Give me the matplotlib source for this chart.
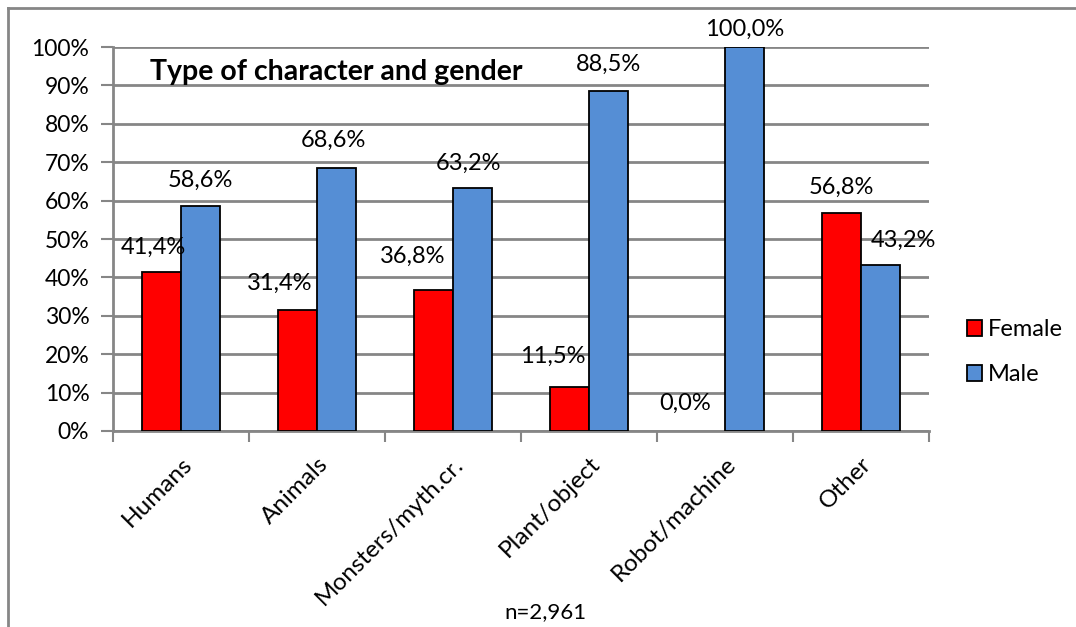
import numpy as np
import matplotlib
matplotlib.use("Agg")
import matplotlib.pyplot as plt
from matplotlib.lines import Line2D

plt.rcParams['font.family'] = ['Lato', 'DejaVu Sans']

categories = ['Humans', 'Animals', 'Monsters/myth.cr.', 'Plant/object', 'Robot/machine', 'Other']
female = [41.4, 31.4, 36.8, 11.5, 0.0, 56.8]
male = [58.6, 68.6, 63.2, 88.5, 100.0, 43.2]
# label offsets in pixels (dx, dy) from the top centre of each bar
female_off = [(-8, 25), (-18, 27), (-21, 33), (-17, 30), (-20, 28), (0, 26)]
male_off = [(0, 26), (-3, 27), (-4, 25), (0, 27), (0, 18), (23, 25)]

fig = plt.figure(figsize=(10.76, 6.27), dpi=100)
ax = fig.add_axes([0.105, 0.3126, 0.7584, 0.6124])

x = np.arange(len(categories))
w = 0.29
b1 = ax.bar(x - w / 2, female, w, color='#ff0000', edgecolor='black', linewidth=1.3, label='Female', zorder=3)
b2 = ax.bar(x + w / 2, male, w, color='#558ed5', edgecolor='black', linewidth=1.3, label='Male', zorder=3)

def pct(v):
    return ('%.1f%%' % v).replace('.', ',')

for bars, vals, offs in [(b1, female, female_off), (b2, male, male_off)]:
    for r, v, (dx, dy) in zip(bars, vals, offs):
        if v == 0:
            r.set_linewidth(0)
        ax.annotate(pct(v), (r.get_x() + r.get_width() / 2, v), xytext=(dx, dy),
                    textcoords='offset pixels', ha='center', va='center',
                    fontsize=17, zorder=4, annotation_clip=False)

ax.set_xlim(-0.5, len(categories) - 0.5)
ax.set_ylim(0, 100)
ax.set_yticks(np.arange(0, 101, 10))
ax.set_yticklabels(['%d%%' % t for t in range(0, 101, 10)], fontsize=16.5)
ax.yaxis.grid(True, color='#868686', linewidth=2, zorder=0)
ax.tick_params(axis='y', length=9, width=1.5, color='#868686', pad=8)

ax.set_xticks(x)
ax.set_xticklabels(categories, fontsize=17.5, rotation=45, ha='right', rotation_mode='anchor')
ax.set_xticks(np.arange(-0.5, len(categories)), minor=True)
ax.tick_params(axis='x', which='major', length=0, pad=16)
ax.tick_params(axis='x', which='minor', length=8, width=1.5, color='#868686')

for s in ['top', 'right']:
    ax.spines[s].set_visible(False)
for s in ['left', 'bottom']:
    ax.spines[s].set_color('#868686')
    ax.spines[s].set_linewidth(2)

ax.text(0.045, 0.935, 'Type of character and gender', transform=ax.transAxes,
        fontsize=20.5, fontweight='bold', va='center', ha='left', zorder=5)

ax.legend(loc='center left', bbox_to_anchor=(1.02, 0.205), frameon=False, fontsize=17,
          handlelength=0.65, handleheight=0.65, handletextpad=0.25, labelspacing=1.0)

fig.text(0.507, 0.024, 'n=2,961', fontsize=16, ha='center', va='center')

# outer chart frame (cropped on right and bottom)
fig.add_artist(Line2D([8 / 1076, 8 / 1076], [0, 1 - 8 / 627], color='#868686', linewidth=2, transform=fig.transFigure))
fig.add_artist(Line2D([8 / 1076, 1], [1 - 8 / 627, 1 - 8 / 627], color='#868686', linewidth=2, transform=fig.transFigure))

fig.savefig('out.png', dpi=100)
